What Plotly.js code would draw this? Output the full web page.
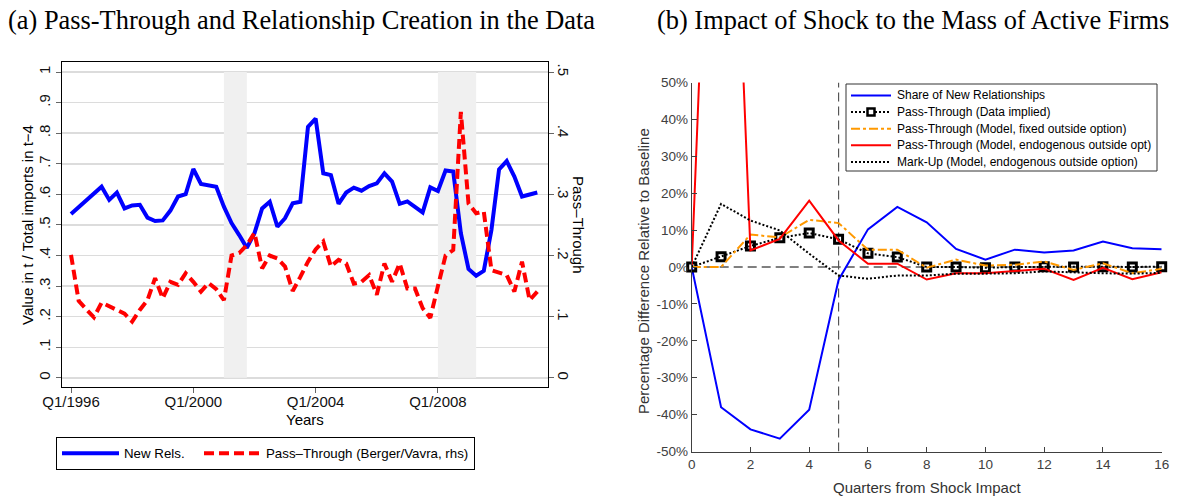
<!DOCTYPE html>
<html><head><meta charset="utf-8">
<script src="https://cdn.plot.ly/plotly-3.0.1.min.js"></script>
<style>html,body{margin:0;padding:0;background:#fff}#chart{width:1177px;height:496px}</style>
</head><body><div id="chart"></div>
<script>
// ---------- Panel (a) data: quarterly, starting Q1/1996 ----------
const startYear = 1996;
const newRels = [0.536,0.558,0.580,0.602,0.625,0.582,0.606,0.554,0.564,0.566,
  0.524,0.513,0.515,0.547,0.593,0.601,0.683,0.634,0.631,0.625,
  0.560,0.506,0.467,0.425,0.473,0.554,0.576,0.494,0.522,0.571,
  0.576,0.821,0.848,0.669,0.663,0.569,0.606,0.622,0.612,0.627,
  0.636,0.669,0.642,0.569,0.577,0.560,0.541,0.623,0.611,0.678,
  0.675,0.473,0.356,0.334,0.350,0.484,0.682,0.709,0.658,0.593,
  0.598,0.606];
const passThrough = [0.201,0.126,0.112,0.099,0.123,0.117,0.112,0.105,0.092,0.111,
  0.127,0.163,0.130,0.157,0.152,0.171,0.157,0.141,0.155,0.145,
  0.127,0.200,0.204,0.217,0.237,0.179,0.200,0.195,0.182,0.142,
  0.165,0.190,0.210,0.223,0.182,0.193,0.187,0.154,0.157,0.168,
  0.136,0.187,0.157,0.187,0.146,0.146,0.114,0.098,0.150,0.200,
  0.209,0.435,0.285,0.269,0.272,0.176,0.172,0.168,0.141,0.190,
  0.127,0.141];
const recessionStarts = [2001.0, 2008.0];
const recessionEnds   = [2001.75, 2009.25];
const xTickVals = [1996, 2000, 2004, 2008];
const xTickText = ['Q1/1996','Q1/2000','Q1/2004','Q1/2008'];
const leftTickVals = [0,0.1,0.2,0.3,0.4,0.5,0.6,0.7,0.8,0.9,1];
const leftTickText = ['0','.1','.2','.3','.4','.5','.6','.7','.8','.9','1'];
const rightTickVals = [0,0.1,0.2,0.3,0.4,0.5];
const rightTickText = ['0','.1','.2','.3','.4','.5'];

// ---------- Panel (b) data: quarters from shock impact ----------
const quarters = [0,1,2,3,4,5,6,7,8,9,10,11,12,13,14,15,16];
const shareNew = [0,-38,-44,-46.5,-38.7,-3.5,10.2,16.3,12.1,4.9,2.0,4.7,3.9,4.5,6.9,5.1,4.8];
const ptData   = [0,2.8,5.7,7.9,9.2,7.5,3.7,2.7,0,0,-0.2,0,0.1,0,0.1,0,0.1];
const ptFixed  = [0,0,8.8,8.0,12.8,11.9,4.7,4.7,-0.2,2.0,0.4,0.6,1.5,-0.8,1.0,-1.7,-0.5];
const ptEndog  = [0,200,4.5,7.6,18,7.2,0.9,0.9,-3.4,-1.7,-1.7,-1.2,-0.5,-3.5,-0.2,-3.3,-1.4];
const markUp   = [0,17.1,12.6,9.9,3.6,-2.3,-3.2,-2.3,-2.3,-1.8,-1.8,-1.7,-1.2,-1.5,-1.7,-1.8,-1.6];
const bTickX = [0,2,4,6,8,10,12,14,16];
const bTickY = [-50,-40,-30,-20,-10,0,10,20,30,40,50];
const shockQuarter = 5;

// ---------- build ----------
const W = 1177, H = 496;
const px = v => v / W, py = v => 1 - v / H;
const SANS = 'Liberation Sans, Arial, sans-serif';
const SERIF = 'Liberation Serif, Times New Roman, serif';
const qYears = newRels.map((_, i) => startYear + i / 4);

const traces = [
  {x: qYears, y: newRels, xaxis:'x', yaxis:'y', type:'scatter', mode:'lines', name:'New Rels.',
   line:{color:'#0000ff', width:4}, legend:'legend', legendwidth:70},
  {x: qYears, y: passThrough, xaxis:'x', yaxis:'y2', type:'scatter', mode:'lines', name:'Pass–Through (Berger/Vavra, rhs)',
   line:{color:'#ff0000', width:4, dash:'10px,5px'}, legend:'legend'}
];
const rightTraces = [
  {x: quarters, y: shareNew, name:'Share of New Relationships', mode:'lines',
   line:{color:'#0000ff', width:2}},
  {x: quarters, y: ptData, name:'Pass-Through (Data implied)', mode:'lines+markers',
   line:{color:'#000', width:2, dash:'2px,2px'}, marker:{symbol:'square-open', size:8, color:'#000', line:{width:3, color:'#000'}},
   cliponaxis:false},
  {x: quarters, y: ptFixed, name:'Pass-Through (Model, fixed outside option)', mode:'lines',
   line:{color:'#ff9900', width:2, dash:'9px,3px,3px,3px'}},
  {x: quarters, y: ptEndog, name:'Pass-Through (Model, endogenous outside opt)', mode:'lines',
   line:{color:'#ff0000', width:2}},
  {x: quarters, y: markUp, name:'Mark-Up (Model, endogenous outside option)', mode:'lines',
   line:{color:'#000', width:2, dash:'2px,2px'}}
];
rightTraces.forEach(t => traces.push(Object.assign({xaxis:'x2', yaxis:'y3', type:'scatter', showlegend:false}, t)));

const shapes = recessionStarts.map((s, i) => ({
  type:'rect', xref:'x', yref:'y', x0:s, x1:recessionEnds[i], y0:0, y1:1,
  fillcolor:'#f0f0f0', line:{width:0}, layer:'between'}));
shapes.push({type:'line', xref:'x2', yref:'y3', x0:bTickX[0], x1:bTickX[bTickX.length-1], y0:0, y1:0,
  line:{color:'#000', width:1, dash:'9px,5px'}, layer:'between'});
shapes.push({type:'line', xref:'x2', yref:'y3', x0:shockQuarter, x1:shockQuarter, y0:bTickY[0], y1:bTickY[bTickY.length-1],
  line:{color:'#555', width:1.2, dash:'9px,5px'}, layer:'between'});

const ann = (text, x, y, opts) => Object.assign({text, x:px(x), y:py(y), xref:'paper', yref:'paper',
  showarrow:false, xanchor:'center', yanchor:'middle'}, opts);

const annotations = [
  ann('(a) Pass-Through and Relationship Creation in the Data', 6, 20, {xanchor:'left', font:{family:SERIF, size:26.4, color:'#000'}}),
  ann('(b) Impact of Shock to the Mass of Active Firms', 655, 20, {xanchor:'left', font:{family:SERIF, size:26.4, color:'#000'}}),
  ann('Value in t / Total imports in t−4', 27, 225, {textangle:-90, font:{family:SANS, size:15, color:'#000'}}),
  ann('Pass–Through', 579, 225, {textangle:90, font:{family:SANS, size:15, color:'#000'}}),
  ann('Years', 305, 419, {font:{family:SANS, size:15, color:'#000'}}),
  ann('Percentage Difference Relative to Baseline', 643, 271, {textangle:-90, font:{family:SANS, size:15, color:'#333'}}),
  ann('Quarters from Shock Impact', 927, 487, {font:{family:SANS, size:15, color:'#333'}})
];

// legend box for panel (b), drawn in paper coordinates
const lgBox = {x0:846, x1:1157, y0:84, y1:171};
shapes.push({type:'rect', xref:'paper', yref:'paper', x0:px(lgBox.x0), x1:px(lgBox.x1), y0:py(lgBox.y1), y1:py(lgBox.y0),
  fillcolor:'#fff', line:{color:'#333', width:1}, layer:'above'});
rightTraces.forEach((t, i) => {
  const yc = 95.5 + 16.6 * i;
  shapes.push({type:'line', xref:'paper', yref:'paper', x0:px(851), x1:px(891), y0:py(yc), y1:py(yc),
    line:{color:t.line.color, width:t.line.width, dash:t.line.dash || 'solid'}, layer:'above'});
  if (t.marker) {
    shapes.push({type:'rect', xref:'paper', yref:'paper', x0:px(867.5), x1:px(874.5), y0:py(yc+3.5), y1:py(yc-3.5),
      fillcolor:'#fff', line:{color:'#000', width:2.5}, layer:'above'});
  }
  annotations.push(ann(t.name, 895, yc, {xanchor:'left', font:{family:SANS, size:12, color:'#000'}}));
});

const layout = {
  width: W, height: H, margin:{l:0, r:0, t:0, b:0}, paper_bgcolor:'#fff', plot_bgcolor:'rgba(0,0,0,0)',
  font:{family:SANS, color:'#000'}, showlegend:true,
  xaxis:{domain:[px(62), px(548)], range:[1995.705, 2011.6], anchor:'y', tickvals:xTickVals, ticktext:xTickText,
    ticks:'outside', ticklen:5, tickcolor:'#666', tickwidth:1, showline:true, linecolor:'#000', linewidth:1.2, mirror:true,
    showgrid:false, zeroline:false, tickfont:{size:15, color:'#111'}, ticklabelstandoff:-4},
  yaxis:{domain:[py(387), py(62)], range:[-0.03, 1.033], anchor:'x', tickvals:leftTickVals, ticktext:leftTickText,
    tickangle:-90, ticks:'outside', ticklen:5, tickcolor:'#666', showline:true, linecolor:'#000', linewidth:1.2, mirror:true,
    showgrid:true, gridcolor:'#dcdcdc', gridwidth:1.5, zeroline:false, tickfont:{size:15, color:'#111'}},
  yaxis2:{overlaying:'y', side:'right', anchor:'x', range:[-0.015, 0.5165], tickvals:rightTickVals, ticktext:rightTickText,
    tickangle:90, ticks:'outside', ticklen:5, tickcolor:'#666', showline:false, showgrid:false, zeroline:false,
    tickfont:{size:15, color:'#111'}, ticklabelstandoff:-2},
  xaxis2:{domain:[px(691.7), px(1161.7)], range:[0,16], anchor:'y3', tickvals:bTickX, ticktext:bTickX.map(String),
    ticks:'inside', ticklen:5, tickcolor:'#404040', showline:true, linecolor:'#404040', linewidth:1,
    showgrid:false, zeroline:false, tickfont:{size:13.5, color:'#404040'}},
  yaxis3:{domain:[py(451.5), py(82.5)], range:[-50,50], anchor:'x2', tickvals:bTickY, ticktext:bTickY.map(v => v + '%'),
    ticks:'inside', ticklen:5, tickcolor:'#404040', showline:true, linecolor:'#404040', linewidth:1,
    showgrid:false, zeroline:false, tickfont:{size:13.5, color:'#404040'}},
  legend:{x:px(56), y:py(437), xanchor:'left', yanchor:'top', orientation:'h', bgcolor:'#fff',
    bordercolor:'#000', borderwidth:1, font:{family:SANS, size:13.3, color:'#000'}, itemwidth:57},
  shapes, annotations
};

Plotly.newPlot('chart', traces, layout, {staticPlot:true, displayModeBar:false});
</script></body></html>
